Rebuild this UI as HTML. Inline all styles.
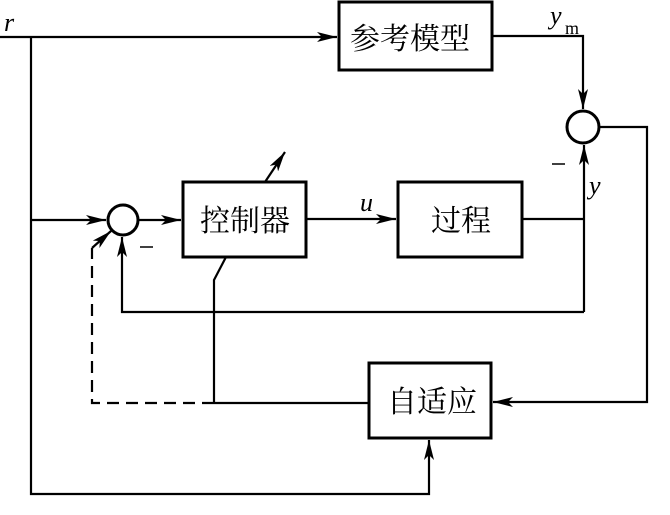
<!DOCTYPE html>
<html><head><meta charset="utf-8"><style>
html,body{margin:0;padding:0;background:#fff}
svg{display:block}
.cjk{font-family:"Liberation Serif","Noto Serif CJK SC","Noto Sans CJK SC",serif;font-size:30px}
.it{font-family:"Liberation Serif",serif;font-style:italic;font-size:26px}
</style></head><body>
<svg width="670" height="515" viewBox="0 0 670 515" xmlns="http://www.w3.org/2000/svg">
<defs>
<marker id="a" viewBox="0 0 20 10" refX="20" refY="5" markerWidth="20" markerHeight="10" markerUnits="userSpaceOnUse" orient="auto">
<path d="M0,0 L20,5 L0,10 L5,5 z" fill="#000"/></marker>
</defs>
<g fill="none" stroke="#000" stroke-width="2.2">
<rect x="339" y="2" width="153" height="68" stroke-width="3"/>
<rect x="183" y="182" width="123" height="75" stroke-width="3"/>
<rect x="398" y="182" width="124" height="75" stroke-width="3"/>
<rect x="369" y="363" width="122" height="75" stroke-width="3"/>
<circle cx="583" cy="127" r="16" stroke-width="3"/>
<circle cx="123" cy="220" r="15" stroke-width="3"/>
<path d="M0,37 H337" marker-end="url(#a)"/>
<path d="M31,37 V494 H429 V440" marker-end="url(#a)"/>
<path d="M31,220 H106" marker-end="url(#a)"/>
<path d="M492,36 H583 V109" marker-end="url(#a)"/>
<path d="M599,127 H647 V402 H493" marker-end="url(#a)"/>
<path d="M138,220 H181" marker-end="url(#a)"/>
<path d="M306,219 H396" marker-end="url(#a)"/>
<path d="M522,219 H584"/>
<path d="M584,312 V145" marker-end="url(#a)"/>
<path d="M584,312 H122 V237" marker-end="url(#a)"/>
<path d="M265,182 L285,152" marker-end="url(#a)"/>
<path d="M226,257 L214,280 V403"/>
<path d="M214,403 H369"/>
<path d="M214,403 H92 V248" stroke-dasharray="12,7"/>
<path d="M92,248 L111,231" marker-end="url(#a)"/>
</g>
<text x="350" y="49" class="cjk">参考模型</text>
<text x="200" y="231" class="cjk">控制器</text>
<text x="431" y="231" class="cjk">过程</text>
<text x="387" y="412" class="cjk">自适应</text>
<text x="4" y="31" class="it">r</text>
<text x="550" y="24" class="it">y</text>
<text x="565" y="34" font-family="Liberation Serif,serif" font-size="18">m</text>
<text x="360" y="211" class="it">u</text>
<text x="589" y="194" class="it">y</text>
<path d="M552,164 H565 M140,247 H153" stroke="#000" stroke-width="1.6"/>
</svg>
</body></html>
